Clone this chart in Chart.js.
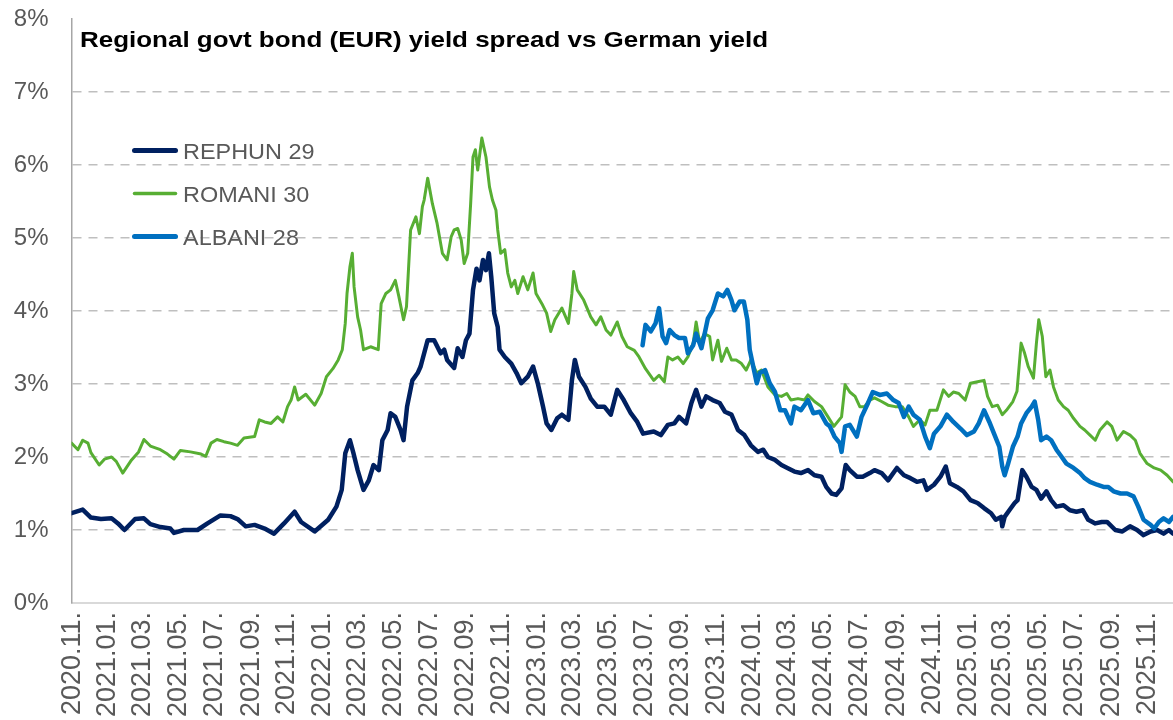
<!DOCTYPE html>
<html>
<head>
<meta charset="utf-8">
<title>Regional govt bond (EUR) yield spread vs German yield</title>
<script src="https://cdn.jsdelivr.net/npm/chart.js@4.4.1/dist/chart.umd.min.js"></script>
<style>
  html, body { margin: 0; padding: 0; background: #fff; }
  #wrap { width: 1173px; height: 720px; }
</style>
</head>
<body>
<div id="wrap"><canvas id="spreadChart" width="1173" height="720"></canvas></div>
<script>
const chartTitle = 'Regional govt bond (EUR) yield spread vs German yield';

const tickLabels = ['2020.11.', '2021.01.', '2021.03.', '2021.05.', '2021.07.', '2021.09.', '2021.11.',
  '2022.01.', '2022.03.', '2022.05.', '2022.07.', '2022.09.', '2022.11.',
  '2023.01.', '2023.03.', '2023.05.', '2023.07.', '2023.09.', '2023.11.',
  '2024.01.', '2024.03.', '2024.05.', '2024.07.', '2024.09.', '2024.11.',
  '2025.01.', '2025.03.', '2025.05.', '2025.07.', '2025.09.', '2025.11.'];

// REPHUN 29 (spread, %)
const hunDates = ['2020-10-31','2020-11-19','2020-12-03','2020-12-20','2021-01-07','2021-01-18','2021-01-29','2021-02-16',
  '2021-03-03','2021-03-14','2021-03-31','2021-04-17','2021-04-23','2021-05-10','2021-06-02','2021-06-19','2021-07-11',
  '2021-07-28','2021-08-09','2021-08-23','2021-09-07','2021-09-24','2021-10-10','2021-10-27','2021-11-14','2021-11-25',
  '2021-12-18','2022-01-10','2022-01-24','2022-02-02','2022-02-08','2022-02-16','2022-02-22','2022-03-01','2022-03-11',
  '2022-03-20','2022-03-28','2022-04-06','2022-04-12','2022-04-21','2022-04-26','2022-05-04','2022-05-13','2022-05-18',
  '2022-05-24','2022-06-02','2022-06-11','2022-06-16','2022-06-28','2022-07-09','2022-07-20','2022-07-26','2022-07-31',
  '2022-08-12','2022-08-18','2022-08-26','2022-09-01','2022-09-07','2022-09-13','2022-09-19','2022-09-24','2022-09-30',
  '2022-10-05','2022-10-10','2022-10-14','2022-10-19','2022-10-25','2022-10-28','2022-11-06','2022-11-17','2022-11-26',
  '2022-12-04','2022-12-15','2022-12-24','2023-01-01','2023-01-10','2023-01-16','2023-01-24','2023-02-03','2023-02-11',
  '2023-02-22','2023-02-28','2023-03-05','2023-03-12','2023-03-23','2023-04-01','2023-04-12','2023-04-24','2023-05-05',
  '2023-05-16','2023-05-27','2023-06-08','2023-06-19','2023-06-29','2023-07-17','2023-07-29','2023-08-10','2023-08-21',
  '2023-08-29','2023-09-10','2023-09-19','2023-09-27','2023-10-06','2023-10-14','2023-10-25','2023-11-06','2023-11-15',
  '2023-11-26','2023-12-07','2023-12-18','2023-12-29','2024-01-10','2024-01-19','2024-01-27','2024-02-08','2024-02-19',
  '2024-02-29','2024-03-12','2024-03-23','2024-04-04','2024-04-15','2024-04-27','2024-05-05','2024-05-14','2024-05-22',
  '2024-05-31','2024-06-07','2024-06-14','2024-06-26','2024-07-06','2024-07-18','2024-07-26','2024-08-07','2024-08-18',
  '2024-09-02','2024-09-14','2024-09-25','2024-10-06','2024-10-17','2024-10-23','2024-11-04','2024-11-15','2024-11-24',
  '2024-12-01','2024-12-13','2024-12-24','2025-01-05','2025-01-17','2025-01-28','2025-02-09','2025-02-17','2025-02-26',
  '2025-02-28','2025-03-04','2025-03-12','2025-03-21','2025-03-26','2025-04-03','2025-04-10','2025-04-19','2025-04-27',
  '2025-05-05','2025-05-14','2025-05-22','2025-05-31','2025-06-12','2025-06-23','2025-07-04','2025-07-15','2025-07-24',
  '2025-08-05','2025-08-16','2025-08-25','2025-09-08','2025-09-20','2025-10-03','2025-10-15','2025-10-26','2025-11-07',
  '2025-11-18','2025-11-29','2025-12-08','2025-12-15'];
const hunValues = [1.23,1.28,1.17,1.15,1.16,1.09,1.00,1.15,
  1.16,1.08,1.04,1.02,0.96,1.00,1.00,1.09,1.20,
  1.19,1.15,1.05,1.07,1.02,0.95,1.09,1.25,1.11,
  0.98,1.14,1.32,1.55,2.05,2.23,2.05,1.82,1.55,
  1.68,1.89,1.82,2.23,2.37,2.60,2.55,2.37,2.23,
  2.69,3.05,3.15,3.24,3.60,3.60,3.42,3.47,3.33,
  3.22,3.49,3.37,3.60,3.69,4.29,4.58,4.42,4.70,
  4.56,4.79,4.47,3.97,3.78,3.47,3.37,3.28,3.15,
  3.01,3.10,3.24,3.01,2.69,2.46,2.37,2.53,2.58,
  2.51,3.05,3.33,3.10,2.96,2.80,2.69,2.69,2.58,
  2.92,2.78,2.60,2.48,2.32,2.35,2.30,2.44,2.46,
  2.55,2.46,2.74,2.92,2.69,2.83,2.78,2.74,2.62,
  2.58,2.37,2.30,2.16,2.07,2.10,2.00,1.96,1.89,
  1.85,1.80,1.78,1.82,1.75,1.73,1.59,1.50,1.48,
  1.57,1.89,1.82,1.73,1.73,1.78,1.82,1.78,1.68,
  1.85,1.75,1.71,1.66,1.68,1.55,1.62,1.73,1.87,
  1.64,1.59,1.53,1.41,1.37,1.30,1.23,1.14,1.18,
  1.05,1.18,1.27,1.37,1.41,1.82,1.73,1.59,1.55,
  1.43,1.53,1.41,1.32,1.34,1.27,1.25,1.27,1.14,
  1.09,1.11,1.11,1.00,0.98,1.05,1.00,0.93,0.98,
  1.00,0.95,1.00,0.95];

// ROMANI 30 (spread, %)
const rouDates = ['2020-10-31','2020-11-11','2020-11-19','2020-11-28','2020-12-03','2020-12-17','2020-12-26','2021-01-07',
  '2021-01-15','2021-01-26','2021-02-10','2021-02-22','2021-03-03','2021-03-14','2021-03-31','2021-04-12','2021-04-23',
  '2021-05-04','2021-05-21','2021-06-08','2021-06-16','2021-06-25','2021-07-05','2021-07-17','2021-07-28','2021-08-09',
  '2021-08-20','2021-09-07','2021-09-15','2021-09-24','2021-10-05','2021-10-16','2021-10-25','2021-11-02','2021-11-08',
  '2021-11-14','2021-11-20','2021-12-03','2021-12-18','2021-12-29','2022-01-07','2022-01-18','2022-01-27','2022-02-03',
  '2022-02-08','2022-02-11','2022-02-16','2022-02-20','2022-02-23','2022-03-01','2022-03-06','2022-03-11','2022-03-23',
  '2022-04-05','2022-04-10','2022-04-18','2022-04-26','2022-05-04','2022-05-10','2022-05-18','2022-05-23','2022-05-30',
  '2022-06-08','2022-06-14','2022-06-19','2022-06-22','2022-06-28','2022-07-06','2022-07-14','2022-07-23','2022-07-31',
  '2022-08-07','2022-08-12','2022-08-18','2022-08-24','2022-08-29','2022-09-04','2022-09-09','2022-09-13','2022-09-17',
  '2022-09-21','2022-09-28','2022-10-05','2022-10-11','2022-10-16','2022-10-22','2022-10-25','2022-10-30','2022-11-06',
  '2022-11-11','2022-11-17','2022-11-23','2022-11-28','2022-12-07','2022-12-15','2022-12-24','2022-12-29','2023-01-08',
  '2023-01-16','2023-01-23','2023-01-30','2023-02-11','2023-02-22','2023-02-28','2023-03-03','2023-03-09','2023-03-20',
  '2023-04-01','2023-04-10','2023-04-18','2023-04-27','2023-05-05','2023-05-16','2023-05-24','2023-06-02','2023-06-14',
  '2023-06-22','2023-07-03','2023-07-17','2023-07-26','2023-08-04','2023-08-10','2023-08-18','2023-08-27','2023-09-05',
  '2023-09-13','2023-09-22','2023-09-27','2023-10-03','2023-10-11','2023-10-20','2023-10-25','2023-11-03','2023-11-09',
  '2023-11-18','2023-11-26','2023-12-04','2023-12-13','2023-12-21','2023-12-29','2024-01-08','2024-01-16','2024-01-27',
  '2024-02-08','2024-02-19','2024-02-28','2024-03-06','2024-03-18','2024-03-29','2024-04-04','2024-04-15','2024-04-27',
  '2024-05-08','2024-05-18','2024-05-31','2024-06-06','2024-06-14','2024-06-23','2024-07-01','2024-07-09','2024-07-18',
  '2024-07-26','2024-08-07','2024-08-18','2024-08-30','2024-09-11','2024-09-22','2024-09-30','2024-10-11','2024-10-20',
  '2024-10-28','2024-11-09','2024-11-20','2024-11-29','2024-12-07','2024-12-16','2024-12-27','2025-01-05','2025-01-17',
  '2025-01-28','2025-02-03','2025-02-11','2025-02-20','2025-02-28','2025-03-07','2025-03-18','2025-03-25','2025-04-01',
  '2025-04-07','2025-04-13','2025-04-22','2025-04-27','2025-05-01','2025-05-07','2025-05-13','2025-05-20','2025-05-26',
  '2025-06-03','2025-06-12','2025-06-20','2025-06-29','2025-07-10','2025-07-18','2025-07-27','2025-08-05','2025-08-13',
  '2025-08-25','2025-09-02','2025-09-11','2025-09-22','2025-10-03','2025-10-12','2025-10-20','2025-11-01','2025-11-13',
  '2025-11-24','2025-12-05','2025-12-15'];
const rouValues = [2.19,2.10,2.23,2.19,2.06,1.89,1.97,2.00,
  1.94,1.78,1.96,2.07,2.24,2.15,2.10,2.04,1.97,
  2.09,2.07,2.04,2.01,2.19,2.24,2.21,2.19,2.16,
  2.26,2.28,2.51,2.48,2.46,2.55,2.48,2.69,2.78,
  2.96,2.78,2.86,2.71,2.87,3.10,3.21,3.33,3.47,
  3.83,4.24,4.61,4.79,4.33,3.92,3.74,3.47,3.51,
  3.47,4.10,4.24,4.29,4.42,4.20,3.88,4.06,5.11,
  5.29,5.06,5.43,5.52,5.82,5.47,5.20,4.79,4.70,
  5.02,5.11,5.13,4.97,4.65,4.79,5.47,6.11,6.21,
  5.93,6.37,6.11,5.70,5.52,5.38,5.11,4.79,4.84,
  4.52,4.33,4.42,4.24,4.47,4.29,4.52,4.24,4.10,
  3.97,3.72,3.88,4.04,3.83,4.24,4.54,4.29,4.15,
  3.92,3.81,3.92,3.74,3.67,3.85,3.65,3.51,3.46,
  3.37,3.21,3.05,3.12,3.03,3.37,3.33,3.37,3.28,
  3.37,3.56,3.85,3.56,3.69,3.65,3.33,3.60,3.31,
  3.49,3.33,3.33,3.28,3.19,3.33,3.15,3.19,2.96,
  2.85,2.83,2.87,2.78,2.80,2.78,2.85,2.76,2.69,
  2.55,2.42,2.55,2.99,2.89,2.83,2.69,2.69,2.78,
  2.81,2.76,2.71,2.69,2.69,2.55,2.42,2.51,2.44,
  2.64,2.64,2.92,2.83,2.89,2.87,2.78,3.01,3.03,
  3.05,2.83,2.69,2.71,2.58,2.64,2.76,2.90,3.56,
  3.42,3.24,3.08,3.56,3.88,3.65,3.10,3.19,2.96,
  2.78,2.69,2.64,2.53,2.42,2.37,2.30,2.23,2.37,
  2.48,2.42,2.23,2.35,2.30,2.23,2.05,1.91,1.85,
  1.82,1.75,1.66];

// ALBANI 28 (spread, %), quoted from mid-2023
const albDates = ['2023-06-28','2023-07-03','2023-07-12','2023-07-20','2023-07-26','2023-08-01','2023-08-07','2023-08-13',
  '2023-08-21','2023-08-29','2023-09-08','2023-09-13','2023-09-22','2023-09-27','2023-10-06','2023-10-11','2023-10-17',
  '2023-10-25','2023-11-03','2023-11-12','2023-11-19','2023-11-26','2023-12-01','2023-12-10','2023-12-17','2023-12-23',
  '2023-12-27','2024-01-02','2024-01-08','2024-01-13','2024-01-22','2024-01-30','2024-02-08','2024-02-17','2024-02-25',
  '2024-03-06','2024-03-12','2024-03-23','2024-04-04','2024-04-13','2024-04-24','2024-05-05','2024-05-11','2024-05-19',
  '2024-05-28','2024-05-31','2024-06-06','2024-06-14','2024-06-26','2024-07-04','2024-07-15','2024-07-23','2024-08-04',
  '2024-08-16','2024-08-27','2024-09-05','2024-09-14','2024-09-22','2024-09-30','2024-10-11','2024-10-20','2024-10-28',
  '2024-11-04','2024-11-15','2024-11-26','2024-12-07','2024-12-19','2024-12-30','2025-01-11','2025-01-19','2025-01-28',
  '2025-02-06','2025-02-14','2025-02-23','2025-02-28','2025-03-04','2025-03-10','2025-03-18','2025-03-26','2025-04-01',
  '2025-04-10','2025-04-19','2025-04-24','2025-04-30','2025-05-05','2025-05-14','2025-05-22','2025-05-31','2025-06-09',
  '2025-06-17','2025-06-29','2025-07-10','2025-07-18','2025-07-27','2025-08-08','2025-08-19','2025-08-27','2025-09-05',
  '2025-09-17','2025-09-28','2025-10-09','2025-10-17','2025-10-26','2025-11-07','2025-11-13','2025-11-21','2025-11-29',
  '2025-12-08','2025-12-15'];
const albValues = [3.53,3.81,3.72,3.83,4.04,3.65,3.56,3.74,
  3.67,3.63,3.63,3.42,3.53,3.69,3.49,3.67,3.90,
  4.01,4.24,4.20,4.29,4.15,4.01,4.13,4.13,3.88,
  3.47,3.24,3.01,3.15,3.19,3.01,2.89,2.64,2.64,
  2.46,2.69,2.64,2.78,2.60,2.62,2.46,2.42,2.28,
  2.19,2.07,2.42,2.44,2.28,2.55,2.74,2.89,2.85,
  2.87,2.78,2.74,2.55,2.69,2.58,2.51,2.28,2.12,
  2.32,2.42,2.58,2.48,2.39,2.30,2.35,2.46,2.64,
  2.48,2.32,2.14,1.87,1.75,1.91,2.14,2.28,2.46,
  2.60,2.69,2.76,2.51,2.23,2.28,2.23,2.10,2.00,
  1.91,1.85,1.78,1.71,1.66,1.62,1.59,1.59,1.53,
  1.50,1.50,1.46,1.32,1.14,1.07,1.02,1.11,1.16,
  1.11,1.18];

const FONT = '"Liberation Sans", Arial, Helvetica, sans-serif';

function toTime(s) {
  const p = s.split('-').map(Number);
  return Date.UTC(p[0], p[1] - 1, p[2]);
}
function labelTime(l) {
  const p = l.split('.').map(Number);
  return Date.UTC(p[0], p[1] - 1, 1);
}
function toPoints(dates, values) {
  return dates.map((d, i) => ({ x: toTime(d), y: values[i] }));
}

// title and legend sit inside the plot area, like the original
// (the source renders its text a bit wider than Liberation Sans, hence the x-stretch)
const insidePlot = {
  id: 'insidePlot',
  afterDraw(chart) {
    const ctx = chart.ctx;
    const area = chart.chartArea;
    ctx.save();
    ctx.textBaseline = 'alphabetic';
    ctx.textAlign = 'left';
    ctx.fillStyle = '#000000';
    ctx.font = 'bold 22px ' + FONT;
    ctx.save();
    ctx.translate(area.left + 8.5, area.top + 27.5);
    ctx.scale(1.18, 1);
    ctx.fillText(chartTitle, 0, 0);
    ctx.restore();

    chart.data.datasets.forEach((ds, i) => {
      const y = area.top + 131.5 + i * 43;
      ctx.strokeStyle = ds.borderColor;
      ctx.lineWidth = ds.legendWidth;
      ctx.lineCap = 'round';
      ctx.beginPath();
      ctx.moveTo(area.left + 63, y);
      ctx.lineTo(area.left + 104, y);
      ctx.stroke();
      ctx.fillStyle = '#595959';
      ctx.font = '22px ' + FONT;
      ctx.save();
      ctx.translate(area.left + 111.5, y + 8);
      ctx.scale(1.065, 1);
      ctx.fillText(ds.label, 0, 0);
      ctx.restore();
    });
    ctx.restore();
  }
};

const ctx = document.getElementById('spreadChart').getContext('2d');
new Chart(ctx, {
  type: 'line',
  data: {
    datasets: [
      { label: 'REPHUN 29', data: toPoints(hunDates, hunValues), borderColor: '#002060', borderWidth: 4.5, legendWidth: 5, order: 2 },
      { label: 'ROMANI 30', data: toPoints(rouDates, rouValues), borderColor: '#57ae33', borderWidth: 3, legendWidth: 3.5, order: 1 },
      { label: 'ALBANI 28', data: toPoints(albDates, albValues), borderColor: '#0070c0', borderWidth: 4.5, legendWidth: 5, order: 0 }
    ]
  },
  options: {
    responsive: false,
    animation: false,
    layout: { padding: { top: 19, left: 0, right: 0, bottom: 0 } },
    elements: {
      point: { radius: 0, hoverRadius: 0 },
      line: { tension: 0, borderJoinStyle: 'round', borderCapStyle: 'round' }
    },
    plugins: {
      legend: { display: false },
      tooltip: { enabled: false }
    },
    scales: {
      x: {
        type: 'linear',
        min: toTime(hunDates[0]),
        max: toTime(hunDates[hunDates.length - 1]),
        afterBuildTicks: function(scale) {
          scale.ticks = tickLabels.map(l => ({ value: labelTime(l) }));
        },
        afterFit: function(scale) {
          scale.height = 117;
          scale.paddingLeft = 0;
          scale.paddingRight = 0;
        },
        ticks: {
          autoSkip: false,
          minRotation: 90,
          maxRotation: 90,
          padding: 9,
          color: '#595959',
          font: { family: FONT, size: 27 },
          callback: function(value, index) { return tickLabels[index]; }
        },
        grid: { drawOnChartArea: false, drawTicks: false },
        border: { display: true, color: '#d9d9d9', width: 2 }
      },
      y: {
        min: 0,
        max: 8,
        afterFit: function(scale) {
          scale.width = 71.5;
          scale.paddingTop = 0;
          scale.paddingBottom = 0;
        },
        ticks: {
          stepSize: 1,
          padding: 23,
          color: '#595959',
          font: { family: FONT, size: 24 },
          callback: function(value) { return value + '%'; }
        },
        grid: {
          drawTicks: false,
          lineWidth: 1.5,
          color: function(c) {
            return (c.tick && (c.tick.value === 0 || c.tick.value === 8)) ? 'rgba(0,0,0,0)' : '#bfbfbf';
          }
        },
        border: { display: true, color: '#a6a6a6', width: 1.5, dash: [9, 7] }
      }
    }
  },
  plugins: [insidePlot]
});
</script>
</body>
</html>
